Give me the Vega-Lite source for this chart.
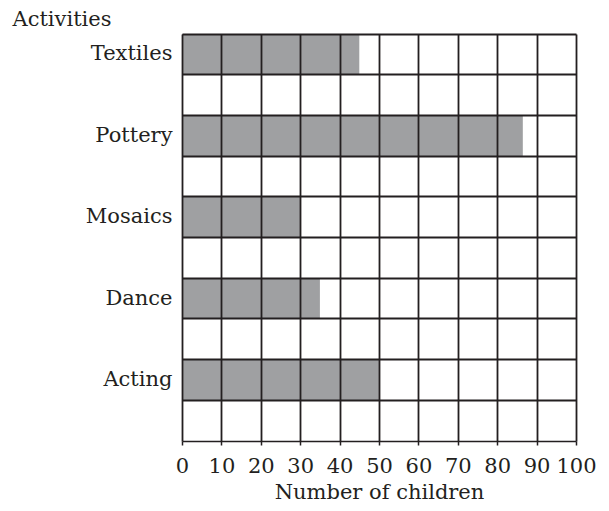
{
  "$schema": "https://vega.github.io/schema/vega-lite/v6.json",
  "autosize": {"type": "none"},
  "width": 394,
  "height": 407,
  "padding": {"left": 182, "top": 34, "right": 33, "bottom": 70},
  "background": "white",
  "config": {
    "view": {"stroke": null},
    "font": "DejaVu Serif"
  },
  "data": {
    "values": [
      {"activity": "Textiles", "children": 45},
      {"activity": "Pottery", "children": 86.5},
      {"activity": "Mosaics", "children": 30},
      {"activity": "Dance", "children": 35},
      {"activity": "Acting", "children": 50}
    ]
  },
  "mark": {"type": "bar", "color": "#9fa0a2"},
  "encoding": {
    "y": {
      "field": "activity",
      "type": "nominal",
      "sort": null,
      "scale": {
        "domain": ["Textiles", "_1", "Pottery", "_2", "Mosaics", "_3", "Dance", "_4", "Acting", "_5"],
        "paddingInner": 0,
        "paddingOuter": 0
      },
      "axis": {
        "bandPosition": 0,
        "labelExpr": "indexof(datum.label, '_') == 0 ? '' : datum.label",
        "grid": true,
        "gridColor": "#231f20",
        "gridWidth": 1.8,
        "gridOpacity": 1,
        "ticks": false,
        "domain": false,
        "labelPadding": 10,
        "labelFontSize": 21,
        "labelColor": "#231f20",
        "labelFont": "DejaVu Serif",
        "zindex": 1,
        "title": "Activities",
        "titleAngle": 0,
        "titleAlign": "left",
        "titleBaseline": "middle",
        "titleX": -170,
        "titleY": -15,
        "titleFontSize": 21,
        "titleFontWeight": "normal",
        "titleColor": "#231f20",
        "titleFont": "DejaVu Serif"
      }
    },
    "x": {
      "field": "children",
      "type": "quantitative",
      "scale": {"domain": [0, 100], "nice": false},
      "axis": {
        "values": [0, 10, 20, 30, 40, 50, 60, 70, 80, 90, 100],
        "grid": true,
        "gridColor": "#231f20",
        "gridWidth": 1.8,
        "gridOpacity": 1,
        "domainColor": "#231f20",
        "domainWidth": 1.5,
        "tickColor": "#231f20",
        "tickSize": 4,
        "tickWidth": 1.5,
        "labelFontSize": 21,
        "labelColor": "#231f20",
        "labelPadding": 10,
        "labelFlush": false,
        "labelFont": "DejaVu Serif",
        "zindex": 1,
        "title": "Number of children",
        "titleFontSize": 21,
        "titleFontWeight": "normal",
        "titleColor": "#231f20",
        "titlePadding": 5,
        "titleFont": "DejaVu Serif"
      }
    }
  }
}
